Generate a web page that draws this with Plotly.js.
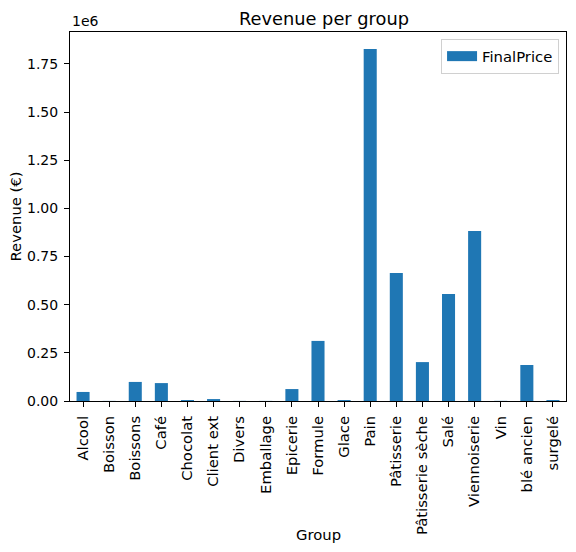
<!DOCTYPE html>
<html>
<head>
<meta charset="utf-8">
<script src="https://cdn.plot.ly/plotly-3.0.1.min.js"></script>
<style>
  html, body { margin: 0; padding: 0; background: #fff; }
  #chart { width: 576px; height: 552px; }
</style>
</head>
<body>
<div id="chart"></div>
<script>
// Revenue per product group (in €)
const groups = ['Alcool', 'Boisson', 'Boissons', 'Café', 'Chocolat', 'Client ext',
  'Divers', 'Emballage', 'Epicerie', 'Formule', 'Glace', 'Pain', 'Pâtisserie',
  'Pâtisserie sèche', 'Salé', 'Viennoiserie', 'Vin', 'blé ancien', 'surgelé'];
const revenue = [47000, 500, 99000, 93000, 5000, 10000,
  500, 500, 62000, 312000, 5000, 1828000, 665000,
  202000, 556000, 883000, 800, 187000, 5000];

const yTickVals = [0, 250000, 500000, 750000, 1000000, 1250000, 1500000, 1750000];
const yTickText = ['0.00', '0.25', '0.50', '0.75', '1.00', '1.25', '1.50', '1.75'];

const FONT = 'DejaVu Sans, sans-serif';
const BLUE = '#1f77b4';
const FS = 14.8;

const bars = {
  type: 'bar',
  name: 'FinalPrice',
  x: groups,
  y: revenue,
  width: 0.5,
  marker: { color: BLUE, line: { width: 0 } },
  showlegend: false,
};

// legend-only entry (draws nothing) so the key is a wide patch like matplotlib's
const legendKey = {
  type: 'scatter',
  mode: 'lines',
  name: 'FinalPrice',
  x: [groups[0]],
  y: [null],
  line: { color: BLUE, width: 10 },
  showlegend: true,
  hoverinfo: 'skip',
};

const axisCommon = {
  showline: true,
  linecolor: '#000',
  linewidth: 1,
  mirror: true,
  showgrid: false,
  zeroline: false,
  ticks: 'outside',
  ticklen: 5,
  tickwidth: 1,
  tickcolor: '#000',
  ticklabelstandoff: 3,
  tickfont: { family: FONT, size: FS, color: '#000' },
};

const layout = {
  width: 576,
  height: 552,
  paper_bgcolor: '#fff',
  plot_bgcolor: '#fff',
  font: { family: FONT, color: '#000' },
  margin: { l: 70, r: 10, t: 32, b: 151, pad: 0 },
  title: {
    text: 'Revenue per group',
    font: { family: FONT, size: 17.8, color: '#000' },
    x: 0.5625, xanchor: 'center',
    y: 0.966, yanchor: 'middle',
  },
  xaxis: Object.assign({}, axisCommon, {
    type: 'category',
    range: [-0.5, groups.length - 0.5],
    tickangle: -90,
  }),
  yaxis: Object.assign({}, axisCommon, {
    range: [0, 1916000],
    tickvals: yTickVals,
    ticktext: yTickText,
    tickfont: { family: FONT, size: 14, color: '#000' },
    title: { text: 'Revenue (€)', font: { family: FONT, size: FS }, standoff: 1 },
  }),
  legend: {
    x: 0.986, xanchor: 'right',
    y: 0.981, yanchor: 'top',
    bgcolor: 'rgba(255,255,255,0.8)',
    bordercolor: '#d0d0d0',
    borderwidth: 1,
    font: { family: FONT, size: FS, color: '#000' },
  },
  annotations: [
    {
      text: '1e6',
      xref: 'paper', yref: 'paper',
      x: 0, y: 1, xanchor: 'left', yanchor: 'bottom',
      yshift: 1,
      showarrow: false,
      font: { family: FONT, size: 14, color: '#000' },
    },
    {
      // x-axis title, placed by hand to sit right under the rotated labels
      text: 'Group',
      xref: 'paper', yref: 'paper',
      x: 0.5, y: -0.363, xanchor: 'center', yanchor: 'middle',
      showarrow: false,
      font: { family: FONT, size: FS, color: '#000' },
    },
  ],
  bargap: 0.5,
};

Plotly.newPlot('chart', [bars, legendKey], layout, { displayModeBar: false, staticPlot: true });
</script>
</body>
</html>
